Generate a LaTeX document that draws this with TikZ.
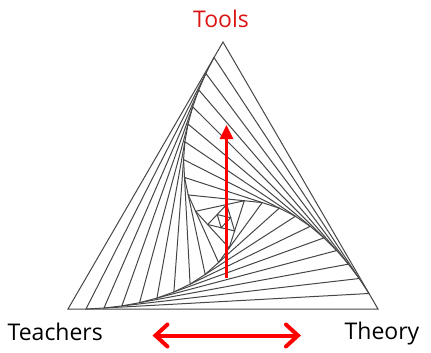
\documentclass[tikz,border=0pt]{standalone}
\usepackage{fontspec}
\setmainfont{Open Sans}
\usetikzlibrary{calc,arrows.meta}
\definecolor{toolred}{RGB}{220,20,20}
\definecolor{arrred}{RGB}{255,0,0}
\definecolor{linegray}{RGB}{70,70,70}
\tikzset{
  tri/.style={draw=linegray, line width=1pt, line join=miter},
  lbl/.style={inner sep=0pt, font=\fontsize{23}{23}\selectfont},
  redarrow/.style={draw=arrred, line width=3pt},
}
\newcommand{\dstep}{18}
\begin{document}
\begin{tikzpicture}[x=1pt,y=-1pt]
\useasboundingbox (0,0) rectangle (431,353);
\coordinate (t0) at (223,42);
\coordinate (l0) at (68,309);
\coordinate (r0) at (378,309);
\draw[tri] (t0)--(l0)--(r0)--cycle;
\gdef\sside{310}
\foreach \i [evaluate=\i as \j using int(\i-1)] in {1,...,12}{
  \pgfmathsetmacro\mydd{min(\dstep,\sside/2)}
  \pgfmathsetmacro\myfr{\mydd/\sside}
  \pgfmathsetmacro\myaa{(\sside-\mydd)/100}
  \pgfmathsetmacro\mybb{\mydd/100}
  \pgfmathsetmacro\myns{100*sqrt(\myaa*\myaa+\mybb*\mybb-\myaa*\mybb)}
  \global\let\sside\myns
  \coordinate (t\i) at ($(t\j)!\myfr!(l\j)$);
  \coordinate (l\i) at ($(l\j)!\myfr!(r\j)$);
  \coordinate (r\i) at ($(r\j)!\myfr!(t\j)$);
  \draw[tri] (t\i)--(l\i)--(r\i)--cycle;
}
\node[lbl, text=toolred, anchor=base] (tools) at (221,27.5) {Tools};
\node[lbl, anchor=base west] (teachers) at (7.5,340) {Teachers};
\node[lbl, anchor=base west] (theory) at (344.5,339) {Theory};
\coordinate (va) at (226.5,278);
\coordinate (vb) at (226.5,125);
\draw[redarrow, -{Triangle[length=14pt,width=13pt]}] (va) -- (vb);
\coordinate (ha) at (152.5,335.5);
\coordinate (hb) at (300.9,335.5);
\draw[redarrow, line width=4pt, line cap=round, {Straight Barb[length=12pt,width=22pt,line cap=round]}-{Straight Barb[length=12pt,width=22pt,line cap=round]}] (ha) -- (hb);
\end{tikzpicture}
\end{document}
